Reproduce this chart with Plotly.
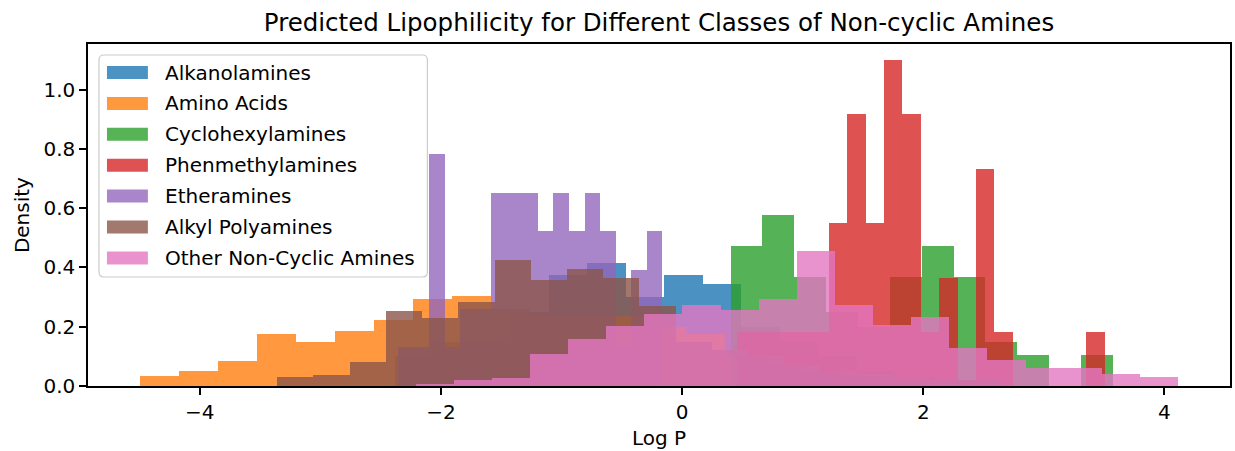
import numpy as np
import plotly.graph_objects as go

# ---- data: density histograms of predicted Log P per amine class ----
# each class: (lowest value, highest value) spanned by its bins, and bin densities
classes = ["Alkanolamines", "Amino Acids", "Cyclohexylamines", "Phenmethylamines",
           "Etheramines", "Alkyl Polyamines", "Other Non-Cyclic Amines"]

alkanolamines_range = (-2.382, 2.406)
alkanolamines_density = [0.10, 0.15, 0.15, 0.25, 0.374, 0.414, 0.300, 0.374, 0.345,
                         0.20, 0.15, 0.10, 0.05, 0.03, 0.02]

amino_acids_range = (-4.497, 1.976)
amino_acids_density = [0.033, 0.050, 0.086, 0.177, 0.150, 0.184, 0.224, 0.293, 0.304, 0.260,
                       0.236, 0.236, 0.236, 0.200, 0.174, 0.100, 0.080, 0.050, 0.030, 0.020]

cyclohexylamines_range = (0.401, 3.573)
cyclohexylamines_density = [0.471, 0.577, 0.368, 0.250, 0.200, 0.368, 0.471, 0.368,
                            0.150, 0.105, 0.0, 0.105]

phenmethylamines_range = (0.454, 3.505)
phenmethylamines_density = [0.183, 0.183, 0.183, 0.183, 0.183, 0.550, 0.917, 0.550, 1.099, 0.917,
                            0.183, 0.366, 0.0, 0.733, 0.183, 0.0, 0.0, 0.0, 0.0, 0.183]

etheramines_range = (-2.357, -0.165)
etheramines_density = [0.1305, 0.1305, 0.783, 0.1305, 0.261, 0.261, 0.6525, 0.6525, 0.6525,
                       0.522, 0.6525, 0.522, 0.6525, 0.522, 0.1305, 0.3915, 0.522]

alkyl_polyamines_range = (-3.358, 2.648)
alkyl_polyamines_density = [0.030, 0.036, 0.081, 0.253, 0.229, 0.283, 0.425, 0.359, 0.394, 0.365,
                            0.269, 0.150, 0.120, 0.100, 0.070, 0.050, 0.040, 0.030, 0.020, 0.020]

other_range = (-2.211, 4.113)
other_density = [0.008, 0.019, 0.028, 0.107, 0.158, 0.203, 0.243, 0.275, 0.256, 0.295,
                 0.457, 0.272, 0.207, 0.233, 0.129, 0.089, 0.060, 0.060, 0.041, 0.030]

x_ticks = [-4, -2, 0, 2, 4]
y_ticks = [0.0, 0.2, 0.4, 0.6, 0.8, 1.0]

# ---- styling ----
colors = ["#1f77b4", "#ff7f0e", "#2ca02c", "#d62728", "#9467bd", "#8c564b", "#e377c2"]
ALPHA = 0.8
FONT = "DejaVu Sans"
TEXT_SIZE = 20

series = [
    (alkanolamines_range, alkanolamines_density),
    (amino_acids_range, amino_acids_density),
    (cyclohexylamines_range, cyclohexylamines_density),
    (phenmethylamines_range, phenmethylamines_density),
    (etheramines_range, etheramines_density),
    (alkyl_polyamines_range, alkyl_polyamines_density),
    (other_range, other_density),
]

fig = go.Figure()
for name, color, (rng, dens) in zip(classes, colors, series):
    edges = np.linspace(rng[0], rng[1], len(dens) + 1)
    centers = (edges[:-1] + edges[1:]) / 2
    widths = np.diff(edges)
    fig.add_trace(go.Bar(
        x=centers, y=dens, width=widths, name=name,
        marker=dict(color=color, line=dict(width=0)),
        opacity=ALPHA, showlegend=False,
    ))

# axis limits with 5% padding around the data on x
lo = min(r[0] for r, _ in series)
hi = max(r[1] for r, _ in series)
pad = 0.05 * (hi - lo)
ymax = max(max(d) for _, d in series) * 1.05

W, H = 1235, 451
ML, MR, MT, MB = 88, 3, 44, 65
PW, PH = W - ML - MR, H - MT - MB


def fx(px):
    return (px - ML) / PW


def fy(py):
    return (H - MB - py) / PH


axis_common = dict(
    showline=True, linecolor="black", linewidth=1.5, mirror=True,
    ticks="outside", ticklen=7, tickwidth=1.5, tickcolor="black",
    showgrid=False, zeroline=False,
    tickfont=dict(family=FONT, size=TEXT_SIZE, color="black"),
)

fig.update_layout(
    width=W, height=H,
    margin=dict(l=ML, r=MR, t=MT, b=MB, pad=0),
    paper_bgcolor="white", plot_bgcolor="white",
    barmode="overlay", bargap=0,
    font=dict(family=FONT, color="black"),
    title=dict(text="Predicted Lipophilicity for Different Classes of Non-cyclic Amines",
               x=0.5, xref="paper", xanchor="center",
               y=1 - 22 / H, yref="container", yanchor="middle",
               font=dict(family=FONT, size=24.5, color="black")),
    xaxis=dict(range=[lo - pad, hi + pad], tickvals=x_ticks,
               ticktext=[f"\u2212{abs(v)}" if v < 0 else str(v) for v in x_ticks],
               **axis_common),
    yaxis=dict(range=[0, ymax], tickvals=y_ticks, tickformat=".1f", **axis_common),
)

# axis titles
fig.add_annotation(text="Log P", xref="paper", yref="paper", x=fx(660), y=fy(438),
                   xanchor="center", yanchor="middle", showarrow=False,
                   font=dict(family=FONT, size=TEXT_SIZE, color="black"))
fig.add_annotation(text="Density", xref="paper", yref="paper", x=fx(22), y=fy(215),
                   xanchor="center", yanchor="middle", textangle=-90, showarrow=False,
                   font=dict(family=FONT, size=TEXT_SIZE, color="black"))

# legend box with rounded corners
bx0, bx1, by0, by1, r = fx(99), fx(428), fy(55), fy(277), 5
rx, ry = r / PW, r / PH
legend_path = (f"M {bx0 + rx},{by0} L {bx1 - rx},{by0} Q {bx1},{by0} {bx1},{by0 - ry} "
               f"L {bx1},{by1 + ry} Q {bx1},{by1} {bx1 - rx},{by1} "
               f"L {bx0 + rx},{by1} Q {bx0},{by1} {bx0},{by1 + ry} "
               f"L {bx0},{by0 - ry} Q {bx0},{by0} {bx0 + rx},{by0} Z")
fig.add_shape(type="path", path=legend_path, xref="paper", yref="paper",
              fillcolor="rgba(255,255,255,0.8)", line=dict(color="#cccccc", width=1.2),
              layer="above")

row0, row_step = 72.5, 30.9
for i, (name, color) in enumerate(zip(classes, colors)):
    cy = row0 + i * row_step
    fig.add_shape(type="rect", xref="paper", yref="paper",
                  x0=fx(107), x1=fx(148), y0=fy(cy - 6.5), y1=fy(cy + 6.5),
                  fillcolor=color, opacity=ALPHA, line=dict(width=0), layer="above")
    fig.add_annotation(text=name, xref="paper", yref="paper", x=fx(163), y=fy(cy),
                       xanchor="left", yanchor="middle", showarrow=False,
                       font=dict(family=FONT, size=TEXT_SIZE, color="black"))

fig.write_html("out.html")
